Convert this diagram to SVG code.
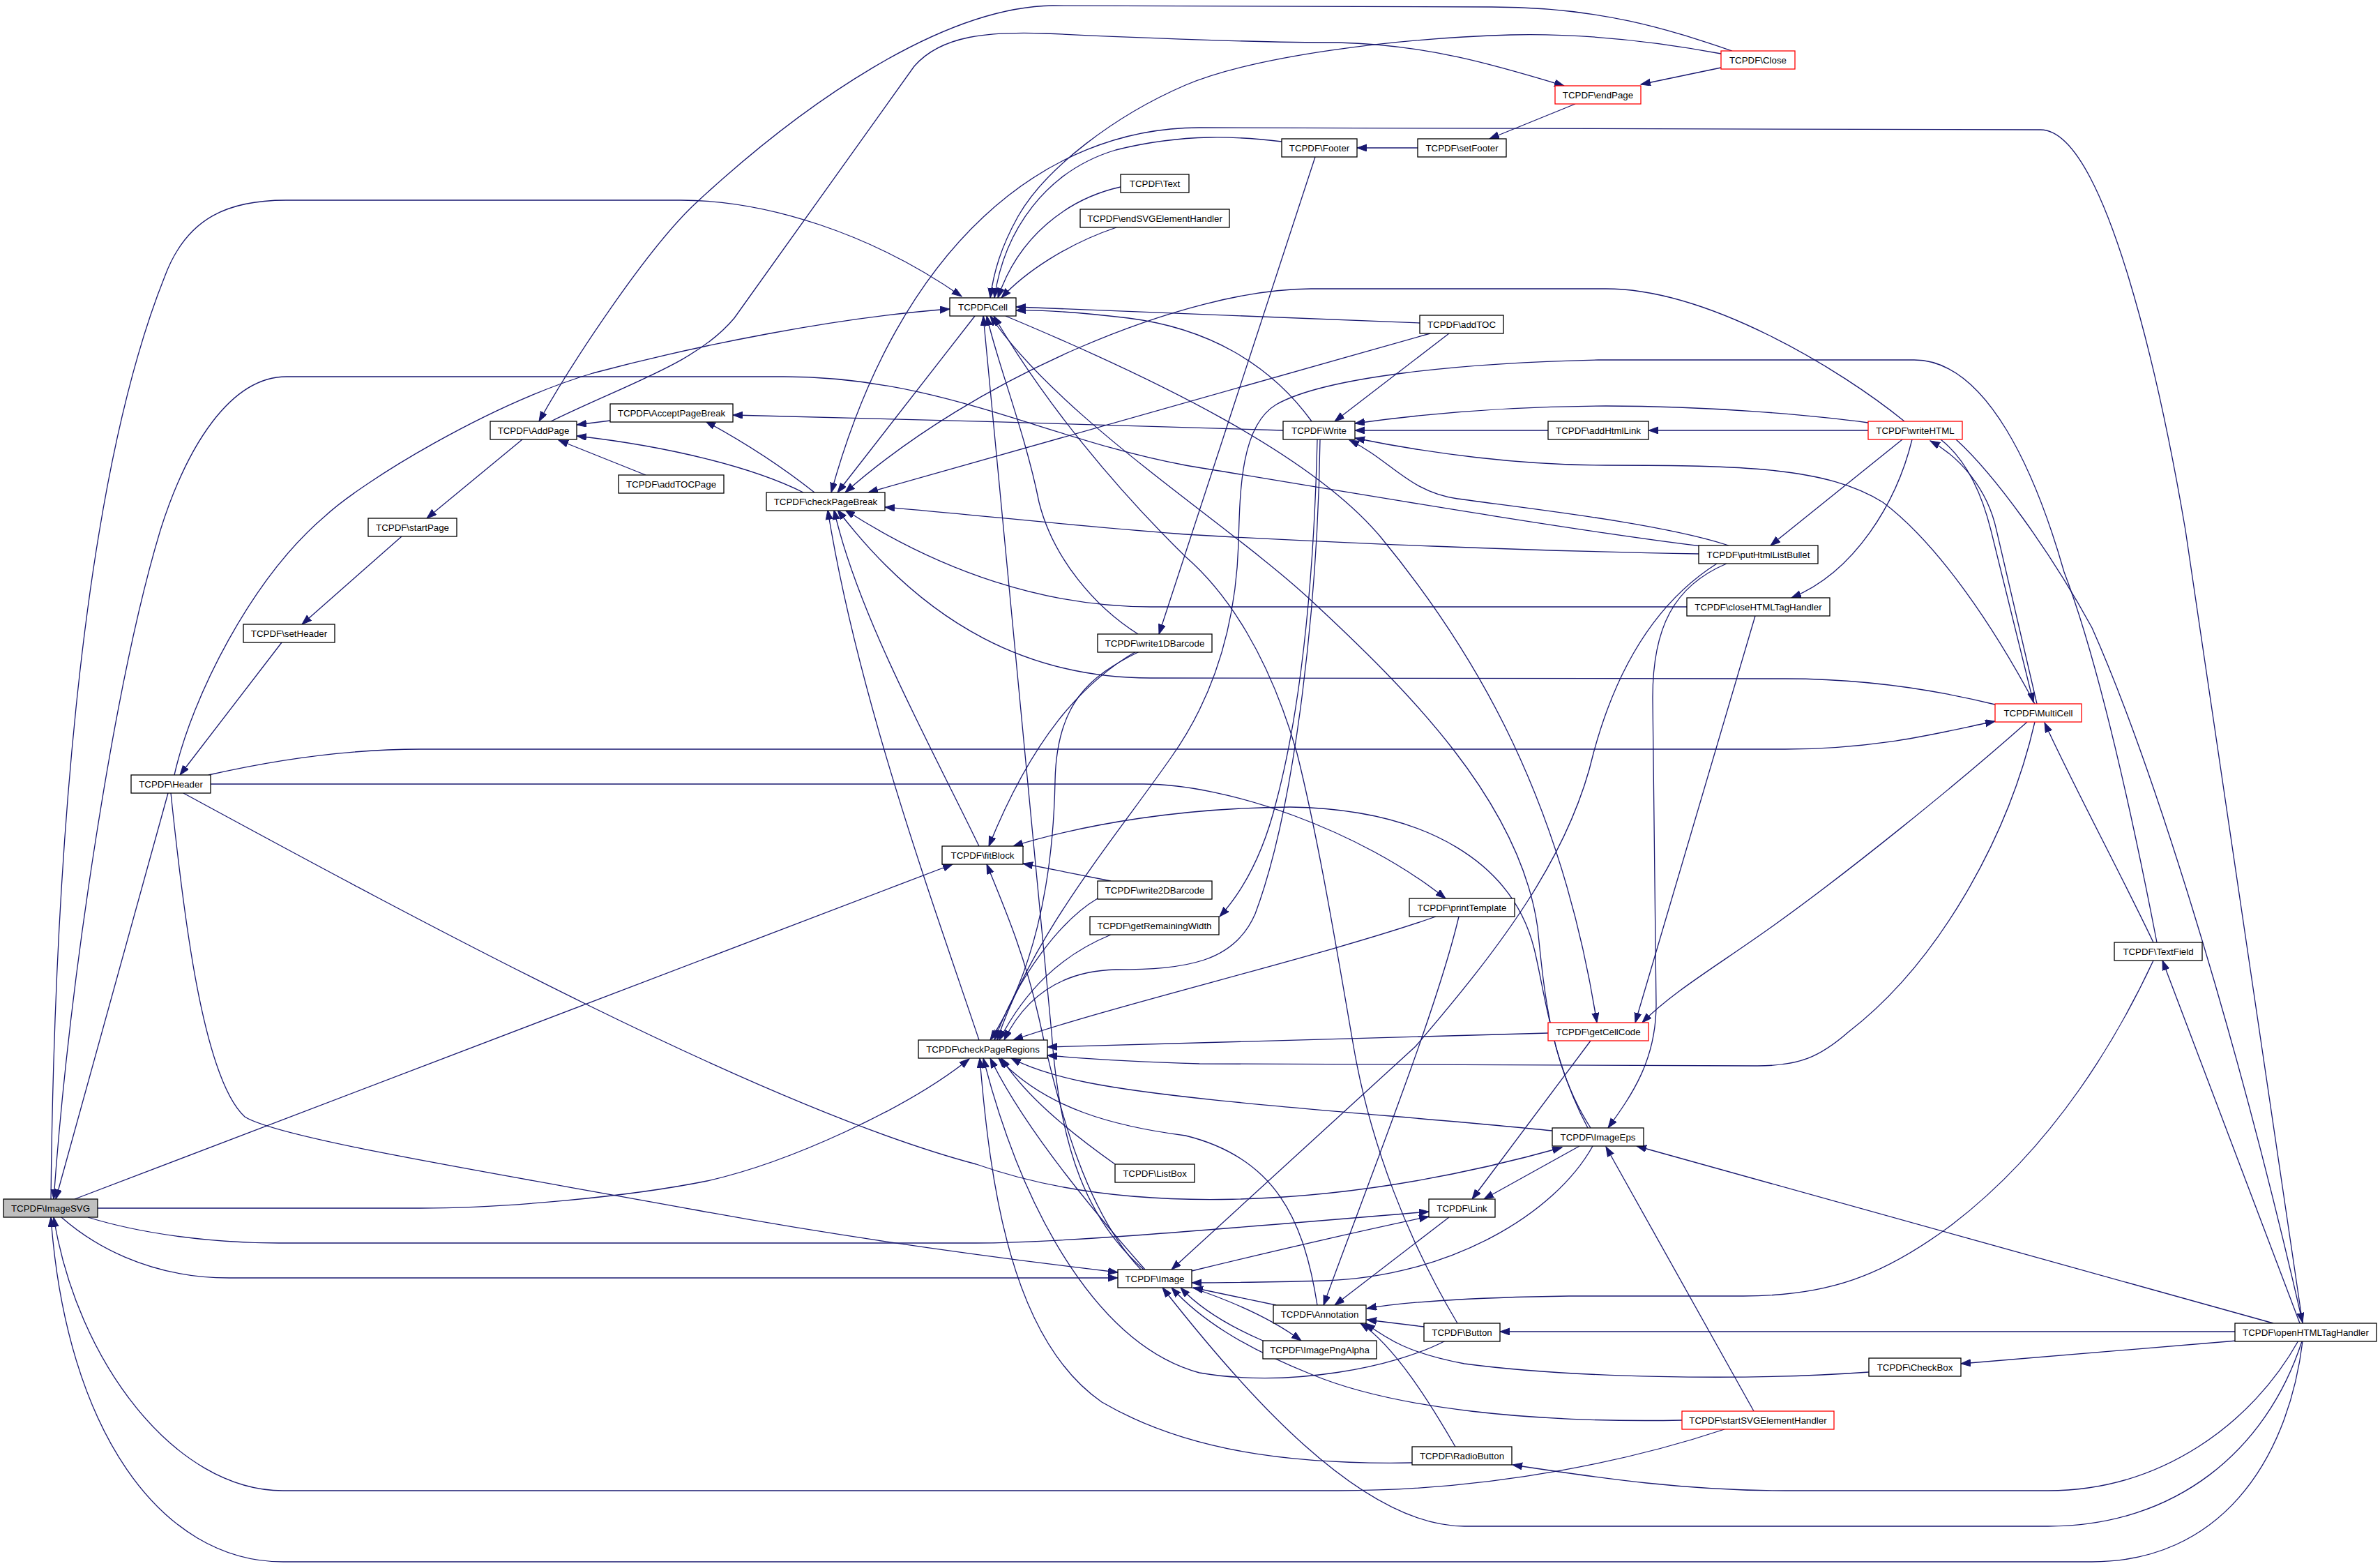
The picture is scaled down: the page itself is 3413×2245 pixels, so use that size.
<svg xmlns="http://www.w3.org/2000/svg" width="3413" height="2245" viewBox="0 0 3413 2245">
<defs>
<style>
.e{fill:none;stroke:#191970;stroke-width:1.3;marker-end:url(#arr)}
.n rect{fill:#ffffff;stroke:#000000;stroke-width:1.3}
.r rect{fill:#ffffff;stroke:#ff0000;stroke-width:1.3}
.f rect{fill:#bfbfbf;stroke:#000000;stroke-width:1.3}
text{font-family:"Liberation Sans",Arial,sans-serif;font-size:13.3px;text-anchor:middle;fill:#000000}
</style>
<marker id="arr" markerUnits="userSpaceOnUse" markerWidth="16" markerHeight="12" refX="14" refY="5" orient="auto">
<path d="M0,0 L14,5 L0,10 z" fill="#191970" stroke="#191970" stroke-width="1"/>
</marker>
</defs>
<rect x="0" y="0" width="3413" height="2245" fill="#ffffff"/>
<g id="edges">
<path class="e" d="M73,1719 C78,1250 115,700 236,397 C268,310 330,287 410,287 L976,287 C1100,287 1250,335 1379,425"/>
<path class="e" d="M2440,783 C2250,760 1900,700 1700,667 C1500,630 1350,540 1124,540 L411,540 C330,540 268,640 230,760 C165,975 100,1400 77,1719"/>
<path class="e" d="M241,1137 L80,1719"/>
<path class="e" d="M2473,2049 C2350,2090 2150,2137 1919,2137 L406,2137 C250,2137 110,1950 77,1745"/>
<path class="e" d="M3302,1923 C3280,2100 3180,2239 3000,2239 L406,2239 C230,2239 95,2050 73,1745"/>
<path class="e" d="M107,1719 L1366,1239"/>
<path class="e" d="M140,1732 L603,1732 C720,1732 900,1716 1014,1693 C1130,1667 1300,1590 1390,1518"/>
<path class="e" d="M126,1745 C200,1768 300,1782 400,1782 L1400,1782 C1520,1782 1750,1762 2049,1737"/>
<path class="e" d="M88,1745 C130,1782 210,1832 329,1832 L1603,1832"/>
<path class="e" d="M245,1137 C262,1300 290,1545 351,1601 C400,1632 700,1680 1000,1735 C1200,1772 1400,1800 1603,1824"/>
<path class="e" d="M263,1137 C600,1320 1100,1590 1400,1669 C1600,1740 1900,1740 2240,1645"/>
<path class="e" d="M302,1124 L1640,1124 C1760,1124 1950,1190 2073,1288"/>
<path class="e" d="M299,1111 C400,1088 500,1074 603,1074 L2560,1074 C2700,1074 2790,1048 2861,1034"/>
<path class="e" d="M250,1111 C275,1000 360,830 466,740 C520,690 700,580 850,535 C1000,495 1200,455 1362,443"/>
<path class="e" d="M404,921 L258,1111"/>
<path class="e" d="M576,769 L433,895"/>
<path class="e" d="M749,630 L612,743"/>
<path class="e" d="M2484,73 C2400,45 2300,10 2139,10 L1510,8 C1350,10 1150,150 998,291 C928,356 820,520 773,604"/>
<path class="e" d="M790,604 C900,550 1000,520 1053,456 L1311,95 C1350,50 1420,45 1500,48 C1650,55 1800,61 1919,61 C2050,64 2150,95 2243,123"/>
<path class="e" d="M2468,97 L2353,121"/>
<path class="e" d="M2259,149 L2136,199"/>
<path class="e" d="M2033,212 L1946,212"/>
<path class="e" d="M2468,77 C2350,55 2250,48 2166,50 C2000,55 1800,80 1700,122 C1600,165 1500,240 1460,310 C1435,355 1425,390 1420,427"/>
<path class="e" d="M3302,1897 L3134,760 C3100,560 3020,186 2926,186 L1720,183 C1500,183 1290,350 1192,706"/>
<path class="e" d="M1838,203 C1780,196 1700,190 1600,215 C1500,245 1440,330 1426,427"/>
<path class="e" d="M1607,268 C1530,285 1460,340 1431,427"/>
<path class="e" d="M1601,326 C1530,350 1470,390 1436,427"/>
<path class="e" d="M2036,463 L1457,440"/>
<path class="e" d="M1881,604 C1820,520 1730,470 1618,456 C1550,448 1500,444 1457,445"/>
<path class="e" d="M1398,453 L1201,706"/>
<path class="e" d="M2731,604 C2640,530 2450,414 2303,414 L1880,414 C1700,414 1400,540 1212,706"/>
<path class="e" d="M2051,478 L1245,706"/>
<path class="e" d="M2436,794 C2200,790 1900,778 1700,766 C1550,755 1400,738 1269,727"/>
<path class="e" d="M2419,870 L1650,870 C1500,870 1350,820 1212,731"/>
<path class="e" d="M2861,1010 C2780,990 2680,973 2560,973 L1650,972 C1480,972 1330,900 1201,731"/>
<path class="e" d="M1404,1491 C1340,1300 1230,1000 1187,731"/>
<path class="e" d="M1404,1213 C1330,1060 1230,880 1196,731"/>
<path class="e" d="M1152,706 C1080,670 960,640 827,625"/>
<path class="e" d="M1168,706 C1110,660 1060,630 1012,604"/>
<path class="e" d="M875,603 L827,609"/>
<path class="e" d="M926,681 L801,631"/>
<path class="e" d="M1840,617 C1600,610 1300,600 1051,595"/>
<path class="e" d="M2078,478 L1914,604"/>
<path class="e" d="M2679,606 C2600,595 2450,582 2303,582 C2150,582 2030,595 1943,607"/>
<path class="e" d="M2220,617 L1943,617"/>
<path class="e" d="M2679,617 L2364,617"/>
<path class="e" d="M2918,1009 C2860,900 2780,780 2700,720 C2620,670 2500,667 2303,667 C2180,667 2050,650 1943,628"/>
<path class="e" d="M2479,782 C2380,750 2200,730 2090,715 C2020,705 1995,660 1935,631"/>
<path class="e" d="M2783,630 C2815,655 2840,700 2855,760 L2916,1007"/>
<path class="e" d="M2921,1009 L2863,760 C2850,700 2810,655 2768,632"/>
<path class="e" d="M2805,630 C2860,680 2940,790 3000,900 C3080,1080 3200,1450 3302,1896"/>
<path class="e" d="M2742,630 C2720,720 2660,820 2569,857"/>
<path class="e" d="M2728,630 L2539,782"/>
<path class="e" d="M1886,225 L1662,909"/>
<path class="e" d="M1632,909 C1570,870 1510,800 1490,720 C1470,620 1430,520 1415,453"/>
<path class="e" d="M1640,1820 C1560,1750 1520,1650 1508,1480 L1410,453"/>
<path class="e" d="M1636,1820 C1560,1740 1520,1600 1490,1460 C1470,1370 1440,1300 1415,1239"/>
<path class="e" d="M1642,1820 C1580,1750 1470,1620 1420,1517"/>
<path class="e" d="M1442,453 C1650,540 1880,650 1980,770 C2120,940 2240,1150 2290,1466"/>
<path class="e" d="M2090,1897 C2020,1780 1965,1640 1941,1500 C1915,1350 1890,1200 1860,1080 C1820,940 1760,850 1700,798 C1600,700 1500,580 1425,453"/>
<path class="e" d="M2281,1617 C2225,1530 2215,1430 2205,1330 C2180,1150 2020,990 1875,856 C1760,750 1520,600 1420,453"/>
<path class="e" d="M2277,1617 C2225,1520 2215,1420 2200,1360 C2170,1240 2050,1160 1850,1157 C1700,1158 1560,1180 1453,1213"/>
<path class="e" d="M1629,934 C1550,980 1480,1060 1418,1213"/>
<path class="e" d="M1634,934 C1560,970 1515,1010 1513,1120 C1510,1270 1480,1400 1420,1491"/>
<path class="e" d="M1593,1263 L1467,1238"/>
<path class="e" d="M1574,1288 C1520,1320 1460,1400 1426,1491"/>
<path class="e" d="M1593,1340 C1520,1370 1470,1420 1433,1491"/>
<path class="e" d="M1889,630 C1885,800 1870,1000 1830,1150 C1810,1230 1780,1280 1749,1314"/>
<path class="e" d="M1893,630 C1890,850 1860,1150 1800,1310 C1770,1380 1700,1390 1600,1390 C1520,1392 1470,1430 1440,1491"/>
<path class="e" d="M3093,1351 C3060,1180 3010,950 2960,820 C2920,680 2850,516 2745,516 L2292,516 C2100,520 1900,540 1830,580 C1780,610 1778,700 1776,780 C1772,900 1740,1000 1680,1085 C1600,1200 1480,1340 1430,1491"/>
<path class="e" d="M2059,1314 C1900,1370 1600,1440 1453,1491"/>
<path class="e" d="M2220,1481 L1502,1501"/>
<path class="e" d="M2918,1035 C2880,1200 2780,1380 2650,1480 C2610,1515 2580,1528 2520,1528 L1720,1525 C1620,1522 1560,1518 1502,1513"/>
<path class="e" d="M3088,1351 C3040,1250 2970,1120 2932,1036"/>
<path class="e" d="M3298,1897 L3101,1377"/>
<path class="e" d="M3088,1377 C3040,1480 2950,1640 2800,1755 C2700,1830 2620,1858 2500,1858 L2250,1858 C2100,1860 2000,1868 1960,1876"/>
<path class="e" d="M3205,1909 L2151,1909"/>
<path class="e" d="M3208,1922 L2812,1955"/>
<path class="e" d="M3296,1922 C3230,2040 3100,2137 2937,2137 L2560,2137 C2420,2137 2300,2120 2169,2100"/>
<path class="e" d="M3301,1923 C3250,2080 3120,2188 2937,2188 L2100,2188 C1950,2188 1780,1990 1667,1846"/>
<path class="e" d="M2412,2036 C2200,2040 2000,2020 1880,1970 C1780,1930 1720,1890 1680,1846"/>
<path class="e" d="M2515,2023 L2303,1644"/>
<path class="e" d="M3260,1897 L2347,1643"/>
<path class="e" d="M2476,808 C2400,840 2370,900 2370,1000 L2375,1440 C2375,1520 2340,1570 2306,1617"/>
<path class="e" d="M2462,808 C2380,860 2320,950 2285,1080 C2250,1230 2150,1360 2030,1500 L1680,1820"/>
<path class="e" d="M2517,883 L2345,1466"/>
<path class="e" d="M2907,1035 C2800,1130 2650,1250 2550,1322 C2470,1380 2400,1420 2355,1466"/>
<path class="e" d="M2281,1492 L2111,1719"/>
<path class="e" d="M2265,1643 L2128,1719"/>
<path class="e" d="M2284,1643 C2230,1740 2080,1830 1900,1836 C1820,1838 1760,1839 1709,1839"/>
<path class="e" d="M1709,1822 C1820,1795 1950,1765 2049,1744"/>
<path class="e" d="M2078,1745 L1914,1871"/>
<path class="e" d="M2092,1314 C2060,1450 1960,1700 1898,1871"/>
<path class="e" d="M1830,1871 L1711,1846"/>
<path class="e" d="M1889,1871 C1870,1750 1830,1660 1700,1628 C1600,1615 1500,1590 1432,1517"/>
<path class="e" d="M2042,1902 L1960,1892"/>
<path class="e" d="M2087,2074 C2050,2010 2000,1930 1951,1897"/>
<path class="e" d="M2680,1967 C2500,1980 2250,1975 2100,1955 C2020,1940 1990,1920 1958,1897"/>
<path class="e" d="M2073,1922 C2000,1960 1850,1990 1720,1968 C1580,1930 1470,1750 1410,1517"/>
<path class="e" d="M2025,2097 C1850,2100 1700,2080 1580,2010 C1450,1920 1420,1700 1405,1517"/>
<path class="e" d="M1709,1846 C1780,1870 1830,1895 1866,1922"/>
<path class="e" d="M1811,1922 C1760,1900 1720,1875 1693,1846"/>
<path class="e" d="M1599,1669 C1530,1620 1470,1570 1436,1517"/>
<path class="e" d="M2226,1621 C2000,1598 1700,1580 1560,1552 C1510,1542 1475,1530 1450,1517"/>
</g>
<g id="node-ImageSVG" class="f"><rect x="5" y="1719" width="135" height="26"/><text x="72.5" y="1736.5">TCPDF\ImageSVG</text></g>
<g id="node-Header" class="n"><rect x="188" y="1111" width="114" height="26"/><text x="245" y="1128.5">TCPDF\Header</text></g>
<g id="node-setHeader" class="n"><rect x="349" y="895" width="131" height="26"/><text x="414.5" y="912.5">TCPDF\setHeader</text></g>
<g id="node-startPage" class="n"><rect x="528" y="743" width="127" height="26"/><text x="591.5" y="760.5">TCPDF\startPage</text></g>
<g id="node-AddPage" class="n"><rect x="703" y="604" width="124" height="26"/><text x="765" y="621.5">TCPDF\AddPage</text></g>
<g id="node-AcceptPageBreak" class="n"><rect x="875" y="579" width="176" height="26"/><text x="963" y="596.5">TCPDF\AcceptPageBreak</text></g>
<g id="node-addTOCPage" class="n"><rect x="887" y="681" width="151" height="26"/><text x="962.5" y="698.5">TCPDF\addTOCPage</text></g>
<g id="node-checkPageBreak" class="n"><rect x="1099" y="706" width="170" height="26"/><text x="1184" y="723.5">TCPDF\checkPageBreak</text></g>
<g id="node-Cell" class="n"><rect x="1362" y="427" width="95" height="26"/><text x="1409.5" y="444.5">TCPDF\Cell</text></g>
<g id="node-Text" class="n"><rect x="1607" y="250" width="98" height="26"/><text x="1656" y="267.5">TCPDF\Text</text></g>
<g id="node-endSVGElementHandler" class="n"><rect x="1549" y="300" width="214" height="26"/><text x="1656" y="317.5">TCPDF\endSVGElementHandler</text></g>
<g id="node-Footer" class="n"><rect x="1838" y="199" width="108" height="26"/><text x="1892" y="216.5">TCPDF\Footer</text></g>
<g id="node-setFooter" class="n"><rect x="2033" y="199" width="127" height="26"/><text x="2096.5" y="216.5">TCPDF\setFooter</text></g>
<g id="node-endPage" class="r"><rect x="2230" y="123" width="123" height="26"/><text x="2291.5" y="140.5">TCPDF\endPage</text></g>
<g id="node-Close" class="r"><rect x="2468" y="73" width="106" height="26"/><text x="2521" y="90.5">TCPDF\Close</text></g>
<g id="node-addTOC" class="n"><rect x="2036" y="452" width="120" height="26"/><text x="2096" y="469.5">TCPDF\addTOC</text></g>
<g id="node-Write" class="n"><rect x="1840" y="604" width="103" height="26"/><text x="1891.5" y="621.5">TCPDF\Write</text></g>
<g id="node-addHtmlLink" class="n"><rect x="2220" y="604" width="144" height="26"/><text x="2292" y="621.5">TCPDF\addHtmlLink</text></g>
<g id="node-writeHTML" class="r"><rect x="2679" y="604" width="135" height="26"/><text x="2746.5" y="621.5">TCPDF\writeHTML</text></g>
<g id="node-putHtmlListBullet" class="n"><rect x="2436" y="782" width="171" height="26"/><text x="2521.5" y="799.5">TCPDF\putHtmlListBullet</text></g>
<g id="node-closeHTMLTagHandler" class="n"><rect x="2419" y="857" width="205" height="26"/><text x="2521.5" y="874.5">TCPDF\closeHTMLTagHandler</text></g>
<g id="node-MultiCell" class="r"><rect x="2861" y="1009" width="124" height="26"/><text x="2923" y="1026.5">TCPDF\MultiCell</text></g>
<g id="node-write1DBarcode" class="n"><rect x="1574" y="909" width="164" height="26"/><text x="1656" y="926.5">TCPDF\write1DBarcode</text></g>
<g id="node-fitBlock" class="n"><rect x="1351" y="1213" width="116" height="26"/><text x="1409" y="1230.5">TCPDF\fitBlock</text></g>
<g id="node-write2DBarcode" class="n"><rect x="1574" y="1263" width="164" height="26"/><text x="1656" y="1280.5">TCPDF\write2DBarcode</text></g>
<g id="node-getRemainingWidth" class="n"><rect x="1563" y="1314" width="185" height="26"/><text x="1655.5" y="1331.5">TCPDF\getRemainingWidth</text></g>
<g id="node-printTemplate" class="n"><rect x="2021" y="1288" width="151" height="26"/><text x="2096.5" y="1305.5">TCPDF\printTemplate</text></g>
<g id="node-TextField" class="n"><rect x="3032" y="1351" width="126" height="26"/><text x="3095" y="1368.5">TCPDF\TextField</text></g>
<g id="node-checkPageRegions" class="n"><rect x="1317" y="1491" width="185" height="26"/><text x="1409.5" y="1508.5">TCPDF\checkPageRegions</text></g>
<g id="node-getCellCode" class="r"><rect x="2220" y="1466" width="144" height="26"/><text x="2292" y="1483.5">TCPDF\getCellCode</text></g>
<g id="node-ImageEps" class="n"><rect x="2226" y="1617" width="131" height="26"/><text x="2291.5" y="1634.5">TCPDF\ImageEps</text></g>
<g id="node-ListBox" class="n"><rect x="1599" y="1669" width="114" height="26"/><text x="1656" y="1686.5">TCPDF\ListBox</text></g>
<g id="node-Link" class="n"><rect x="2049" y="1719" width="95" height="26"/><text x="2096.5" y="1736.5">TCPDF\Link</text></g>
<g id="node-Image" class="n"><rect x="1603" y="1820" width="106" height="26"/><text x="1656" y="1837.5">TCPDF\Image</text></g>
<g id="node-Annotation" class="n"><rect x="1826" y="1871" width="133" height="26"/><text x="1892.5" y="1888.5">TCPDF\Annotation</text></g>
<g id="node-ImagePngAlpha" class="n"><rect x="1811" y="1922" width="163" height="26"/><text x="1892.5" y="1939.5">TCPDF\ImagePngAlpha</text></g>
<g id="node-Button" class="n"><rect x="2042" y="1897" width="109" height="26"/><text x="2096.5" y="1914.5">TCPDF\Button</text></g>
<g id="node-CheckBox" class="n"><rect x="2680" y="1947" width="132" height="26"/><text x="2746" y="1964.5">TCPDF\CheckBox</text></g>
<g id="node-startSVGElementHandler" class="r"><rect x="2412" y="2023" width="218" height="26"/><text x="2521" y="2040.5">TCPDF\startSVGElementHandler</text></g>
<g id="node-RadioButton" class="n"><rect x="2025" y="2074" width="143" height="26"/><text x="2096.5" y="2091.5">TCPDF\RadioButton</text></g>
<g id="node-openHTMLTagHandler" class="n"><rect x="3205" y="1897" width="203" height="26"/><text x="3306.5" y="1914.5">TCPDF\openHTMLTagHandler</text></g>
</svg>
